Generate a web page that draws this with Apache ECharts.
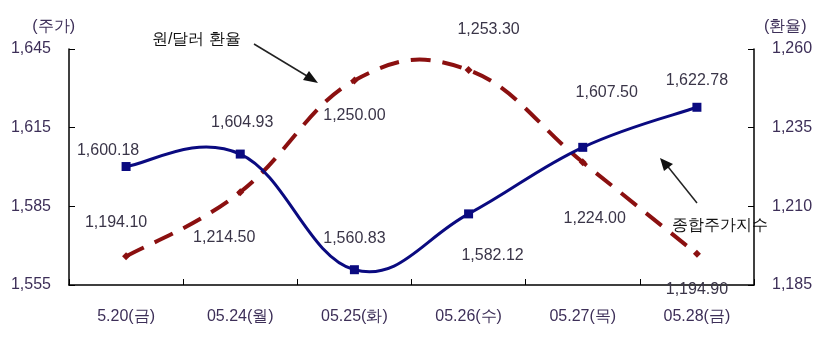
<!DOCTYPE html>
<html>
<head>
<meta charset="utf-8">
<script src="https://cdn.jsdelivr.net/npm/echarts@6/dist/echarts.min.js"></script>
<style>
  html, body { margin: 0; padding: 0; background: #fff; }
  #chart { width: 818px; height: 344px; }
</style>
</head>
<body>
<div id="chart"></div>
<script>
// Daily KOSPI close and KRW/USD rate, week of May 20–28
const categories = ['5.20(금)', '05.24(월)', '05.25(화)', '05.26(수)', '05.27(목)', '05.28(금)'];
const kospi = [1600.18, 1604.93, 1560.83, 1582.12, 1607.50, 1622.78];
const krwUsd = [1194.10, 1214.50, 1250.00, 1253.30, 1224.00, 1194.90];

const leftTicks = [1555, 1585, 1615, 1645];
const rightTicks = [1185, 1210, 1235, 1260];

// Label offsets (px) relative to each point, kept apart from the values
const kospiLabelOffset = [[-18, -16], [2, -31], [0, -31], [24, 42], [24, -55], [0, -27]];
const krwLabelOffset = [[-10, -34], [-16, 45], [0, 35], [20, -40], [12, 56], [0, 36]];

const FONT = "'Liberation Sans', Arial, sans-serif";
const TICK_COLOR = '#3d2f58';
const LABEL_COLOR = '#3a3548';
const KOSPI_COLOR = '#0a0a80';
const KRW_COLOR = '#8b1010';
const TENSION = 0.2;

const fmt = v => v.toLocaleString('en-US', { minimumFractionDigits: 2, maximumFractionDigits: 2 });
const fmtTick = v => v.toLocaleString('en-US');

function labelled(values, offsets) {
  return values.map((v, i) => ({ value: v, label: { offset: offsets[i] } }));
}

// Cardinal-spline path through the points, positioned by the axes' own scales
function splineSeries(values, yAxisIndex, lineStyle, z) {
  return {
    type: 'custom',
    xAxisIndex: 0,
    yAxisIndex: yAxisIndex,
    data: values.map((v, i) => [i, v]),
    silent: true,
    z: z,
    renderItem: function (params, api) {
      if (params.dataIndex !== 0) return null;
      const pts = values.map((v, i) => api.coord([i, v]));
      const n = pts.length;
      const P = i => pts[Math.max(0, Math.min(n - 1, i))];
      let d = 'M' + pts[0][0] + ' ' + pts[0][1];
      for (let i = 0; i < n - 1; i++) {
        const p0 = P(i - 1), p1 = P(i), p2 = P(i + 1), p3 = P(i + 2);
        const c1 = [p1[0] + (p2[0] - p0[0]) * TENSION, p1[1] + (p2[1] - p0[1]) * TENSION];
        const c2 = [p2[0] - (p3[0] - p1[0]) * TENSION, p2[1] - (p3[1] - p1[1]) * TENSION];
        d += ' C' + c1[0] + ' ' + c1[1] + ' ' + c2[0] + ' ' + c2[1] + ' ' + p2[0] + ' ' + p2[1];
      }
      return {
        type: 'path',
        shape: { pathData: d },
        style: Object.assign({ fill: 'none' }, lineStyle)
      };
    }
  };
}

const chart = echarts.init(document.getElementById('chart'));
chart.setOption({
  animation: false,
  backgroundColor: '#fff',
  grid: { left: 69, right: 64, top: 49, bottom: 59, containLabel: false },
  xAxis: {
    type: 'category',
    data: categories,
    boundaryGap: true,
    axisLine: { lineStyle: { color: '#000', width: 1.5 } },
    axisTick: { show: true, inside: true, length: 6, lineStyle: { color: '#000' } },
    axisLabel: { color: TICK_COLOR, fontFamily: FONT, fontSize: 16, margin: 24 },
    splitLine: { show: false }
  },
  yAxis: [
    {
      type: 'value',
      min: leftTicks[0],
      max: leftTicks[leftTicks.length - 1],
      interval: leftTicks[1] - leftTicks[0],
      name: '(주가)',
      nameLocation: 'end',
      nameGap: 14,
      nameTextStyle: { color: TICK_COLOR, fontFamily: FONT, fontSize: 16, align: 'right', padding: [0, -6, 0, 0] },
      axisLine: { show: true, lineStyle: { color: '#000', width: 1.5 } },
      axisTick: { show: true, inside: true, length: 6, lineStyle: { color: '#000' } },
      axisLabel: { color: TICK_COLOR, fontFamily: FONT, fontSize: 16, margin: 18, formatter: fmtTick },
      splitLine: { show: false }
    },
    {
      type: 'value',
      min: rightTicks[0],
      max: rightTicks[rightTicks.length - 1],
      interval: rightTicks[1] - rightTicks[0],
      name: '(환율)',
      nameLocation: 'end',
      nameGap: 14,
      nameTextStyle: { color: TICK_COLOR, fontFamily: FONT, fontSize: 16, align: 'left', padding: [0, 0, 0, 10] },
      axisLine: { show: true, lineStyle: { color: '#000', width: 1.5 } },
      axisTick: { show: true, inside: true, length: 6, lineStyle: { color: '#000' } },
      axisLabel: { color: TICK_COLOR, fontFamily: FONT, fontSize: 16, margin: 18, formatter: fmtTick },
      splitLine: { show: false }
    }
  ],
  series: [
    splineSeries(krwUsd, 1, { stroke: KRW_COLOR, lineWidth: 4, lineDash: [20, 12] }, 2),
    splineSeries(kospi, 0, { stroke: KOSPI_COLOR, lineWidth: 3 }, 3),
    {
      name: '원/달러 환율',
      type: 'line',
      yAxisIndex: 1,
      data: labelled(krwUsd, krwLabelOffset),
      symbol: 'diamond',
      symbolSize: 8,
      itemStyle: { color: KRW_COLOR },
      lineStyle: { width: 0, opacity: 0 },
      label: {
        show: true, position: 'inside',
        color: LABEL_COLOR, fontFamily: FONT, fontSize: 16,
        formatter: p => fmt(p.value)
      },
      z: 4
    },
    {
      name: '종합주가지수',
      type: 'line',
      yAxisIndex: 0,
      data: labelled(kospi, kospiLabelOffset),
      symbol: 'rect',
      symbolSize: 9,
      itemStyle: { color: KOSPI_COLOR },
      lineStyle: { width: 0, opacity: 0 },
      label: {
        show: true, position: 'inside',
        color: LABEL_COLOR, fontFamily: FONT, fontSize: 16,
        formatter: p => fmt(p.value)
      },
      z: 5
    }
  ],
  graphic: [
    {
      type: 'text', left: 152, top: 32,
      style: { text: '원/달러 환율', fill: '#111', font: "16px " + FONT }
    },
    {
      type: 'line',
      shape: { x1: 254, y1: 44, x2: 312, y2: 79 },
      style: { stroke: '#222', lineWidth: 1.5 }
    },
    {
      type: 'polygon',
      shape: { points: [[318, 83], [303, 80], [309, 71]] },
      style: { fill: '#111' }
    },
    {
      type: 'text', left: 672, top: 218,
      style: { text: '종합주가지수', fill: '#111', font: "16px " + FONT }
    },
    {
      type: 'line',
      shape: { x1: 697, y1: 203, x2: 665, y2: 163 },
      style: { stroke: '#222', lineWidth: 1.5 }
    },
    {
      type: 'polygon',
      shape: { points: [[660, 158], [673, 164], [664, 171]] },
      style: { fill: '#111' }
    }
  ]
});
</script>
</body>
</html>
